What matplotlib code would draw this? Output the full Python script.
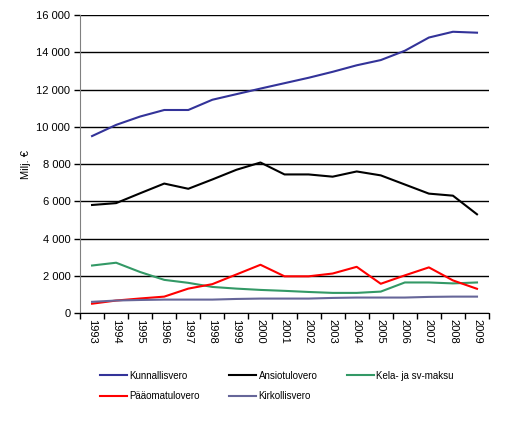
import matplotlib
matplotlib.use("Agg")
import matplotlib.pyplot as plt
from matplotlib.ticker import FuncFormatter, FixedLocator
import numpy as np

plt.rcParams['font.family'] = ['Liberation Sans', 'DejaVu Sans']

years = [str(y) for y in range(1993, 2010)]

kunnallisvero = [9500, 10100, 10550, 10900, 10900, 11450, 11750, 12050, 12340,
                 12630, 12950, 13300, 13580, 14080, 14790, 15100, 15050]
ansiotulovero = [5800, 5900, 6430, 6950, 6670, 7170, 7690, 8080, 7440,
                 7440, 7320, 7600, 7390, 6900, 6410, 6300, 5300]
kela = [2550, 2700, 2200, 1780, 1620, 1400, 1310, 1240, 1190,
        1130, 1080, 1080, 1150, 1640, 1640, 1590, 1640]
paaoma = [500, 670, 780, 880, 1310, 1550, 2070, 2590, 1970,
          1970, 2120, 2480, 1570, 2020, 2450, 1750, 1300]
kirkollisvero = [600, 670, 700, 720, 720, 720, 755, 775, 775,
                 775, 810, 830, 830, 830, 865, 880, 880]

series = [
    ("Kunnallisvero", kunnallisvero, "#333399"),
    ("Ansiotulovero", ansiotulovero, "#000000"),
    ("Kela- ja sv-maksu", kela, "#339966"),
    ("Pääomatulovero", paaoma, "#FF0000"),
    ("Kirkollisvero", kirkollisvero, "#666699"),
]

fig = plt.figure(figsize=(5.11, 4.25), dpi=100)
ax = fig.add_axes([0.1566, 0.2635, 0.8004, 0.7012])

x = np.arange(len(years))
handles = []
for name, vals, col in series:
    h, = ax.plot(x, vals, color=col, lw=1.5, label=name)
    handles.append(h)

ax.set_xlim(-0.5, len(years) - 0.5)
ax.set_ylim(0, 16000)
ax.set_yticks(range(0, 16001, 2000))
ax.yaxis.set_major_formatter(FuncFormatter(lambda v, p: f"{int(v):,}".replace(",", " ")))
ax.grid(axis='y', color='black', lw=1)
ax.set_axisbelow(True)

ax.xaxis.set_major_locator(FixedLocator(np.arange(-0.5, len(years), 1.0)))
ax.xaxis.set_minor_locator(FixedLocator(x))
ax.set_xticklabels([], minor=False)
ax.set_xticks(x, years, minor=True, rotation=270)
ax.tick_params(axis='x', which='major', length=4, width=1, color='black')
ax.tick_params(axis='x', which='minor', length=0, labelsize=8, pad=4)
ax.tick_params(axis='y', length=4, width=1, labelsize=8, pad=3)

for s in ['top', 'right']:
    ax.spines[s].set_visible(False)
ax.spines['left'].set_color('#808080')
ax.spines['bottom'].set_color('black')

ax.set_ylabel("Milj. €", fontsize=8, labelpad=4)

# legend fills column by column, so reorder to get row-wise layout
order = [0, 3, 1, 4, 2]
fig.legend([handles[i] for i in order], [series[i][0] for i in order],
           loc='upper left', bbox_to_anchor=(0.195, 0.128), ncol=3, frameon=False,
           fontsize=7, handlelength=2.8, handletextpad=0.25, columnspacing=3.0,
           labelspacing=1.1, borderaxespad=0, borderpad=0)

fig.savefig("out.png", dpi=100)
